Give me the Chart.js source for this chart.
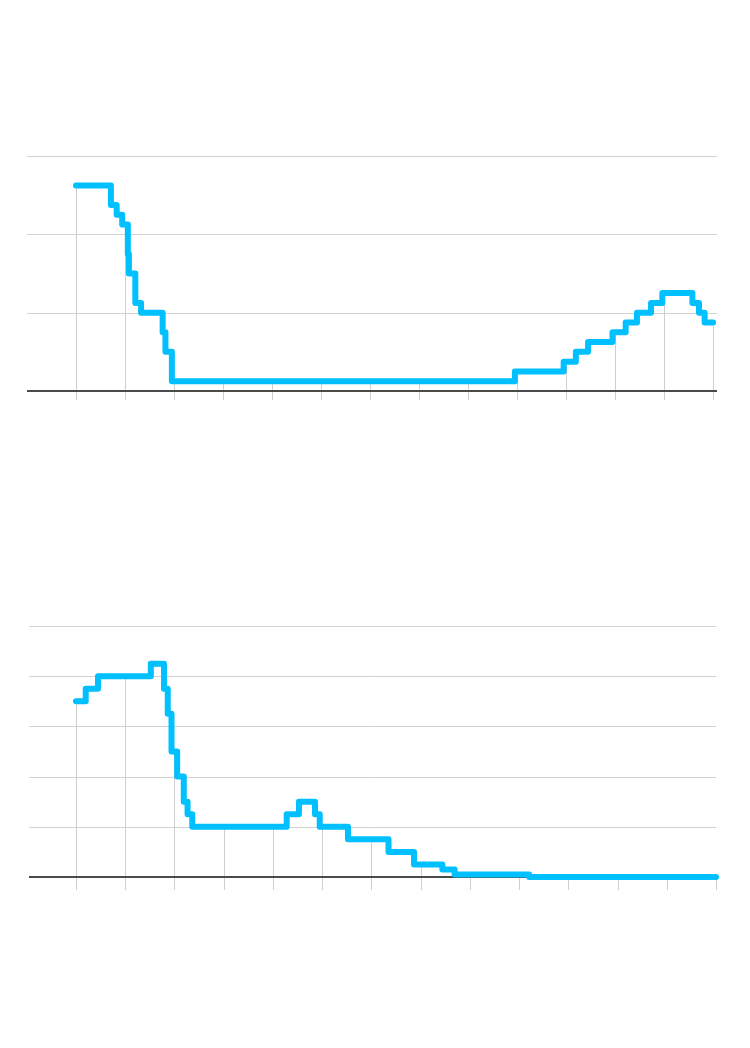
<!DOCTYPE html>
<html>
<head>
<meta charset="utf-8">
<script src="https://cdn.jsdelivr.net/npm/chart.js@4.4.1/dist/chart.umd.min.js"></script>
<style>
  html, body { margin: 0; padding: 0; background: #fff; }
  #wrap { position: relative; width: 750px; height: 1048px; }
  canvas { position: absolute; left: 0; }
  #fedChart { top: 0; }
  #ecbChart { top: 524px; }
</style>
</head>
<body>
<div id="wrap">
  <canvas id="fedChart" width="750" height="420"></canvas>
  <canvas id="ecbChart" width="750" height="524"></canvas>
</div>
<script>
// rate decision dates and the rate that applies from each date on
const fedDates = ['2007-01-01', '2007-09-18', '2007-10-31', '2007-12-11', '2008-01-22', '2008-01-30',
    '2008-03-18', '2008-04-30', '2008-10-08', '2008-10-29', '2008-12-16', '2015-12-16', '2016-12-14',
    '2017-03-15', '2017-06-14', '2017-12-13', '2018-03-21', '2018-06-13', '2018-09-26', '2018-12-19',
    '2019-07-31', '2019-09-18', '2019-10-30', '2020-01-01'];
const fedRates = [5.25, 4.75, 4.5, 4.25, 3.5, 3.0, 2.25, 2.0, 1.5, 1.0, 0.25, 0.5, 0.75,
    1.0, 1.25, 1.5, 1.75, 2.0, 2.25, 2.5, 2.25, 2.0, 1.75, 1.75];

const ecbDates = ['2007-01-01', '2007-03-14', '2007-06-13', '2008-07-09', '2008-10-15', '2008-11-12',
    '2008-12-10', '2009-01-21', '2009-03-11', '2009-04-08', '2009-05-13', '2011-04-13', '2011-07-13',
    '2011-11-09', '2011-12-14', '2012-07-11', '2013-05-08', '2013-11-13', '2014-06-11', '2014-09-10',
    '2016-03-16', '2020-01-01'];
const ecbRates = [3.5, 3.75, 4.0, 4.25, 3.75, 3.25, 2.5, 2.0, 1.5, 1.25, 1.0, 1.25, 1.5,
    1.25, 1.0, 0.75, 0.5, 0.25, 0.15, 0.05, 0.0, 0.0];

const yearTicks = [2007, 2008, 2009, 2010, 2011, 2012, 2013, 2014, 2015, 2016, 2017, 2018, 2019, 2020];
const fedGrid = [0, 2, 4, 6];
const ecbGrid = [0, 1, 2, 3, 4, 5];

function toYear(s) {
    const d = new Date(s + 'T00:00:00Z');
    const y = d.getUTCFullYear();
    const start = Date.UTC(y, 0, 1), end = Date.UTC(y + 1, 0, 1);
    return y + (d.getTime() - start) / (end - start);
}

function rateAt(points, x) {
    let v = points[0].y;
    for (const p of points) { if (p.x <= x + 1e-9) v = p.y; }
    return v;
}

function makeChart(id, dates, rates, grid, opts) {
    const points = dates.map((d, i) => ({ x: toYear(d), y: rates[i] }));

    const gridPlugin = {
        id: 'gridLines',
        beforeDatasetsDraw(chart) {
            const { ctx, chartArea, scales } = chart;
            const xs = scales.x, ys = scales.y;
            ctx.save();
            // horizontal grid
            ctx.strokeStyle = '#d2d2d2';
            ctx.lineWidth = 1;
            grid.forEach(v => {
                if (v === 0) return;
                const y = Math.round(ys.getPixelForValue(v)) + 0.5;
                ctx.beginPath();
                ctx.moveTo(chartArea.left, y);
                ctx.lineTo(chartArea.right, y);
                ctx.stroke();
            });
            // drop lines from the series to the axis at each year
            const y0 = ys.getPixelForValue(0);
            ctx.strokeStyle = '#cfcfcf';
            yearTicks.forEach(t => {
                const x = Math.round(xs.getPixelForValue(t)) + 0.5;
                const top = ys.getPixelForValue(rateAt(points, t));
                ctx.beginPath();
                ctx.moveTo(x, top);
                ctx.lineTo(x, y0 + opts.tickLen);
                ctx.stroke();
            });
            // zero axis
            ctx.strokeStyle = '#4a4a4a';
            ctx.lineWidth = 2;
            ctx.beginPath();
            ctx.moveTo(chartArea.left, Math.round(y0));
            ctx.lineTo(chartArea.right, Math.round(y0));
            ctx.stroke();
            ctx.restore();
        }
    };

    return new Chart(document.getElementById(id), {
        type: 'line',
        data: {
            datasets: [{
                data: points,
                stepped: true,
                borderColor: '#00c0ff',
                borderWidth: 6,
                borderCapStyle: 'round',
                borderJoinStyle: 'round',
                pointRadius: 0,
                fill: false,
                clip: false
            }]
        },
        options: {
            responsive: false,
            animation: false,
            layout: { padding: opts.padding },
            plugins: { legend: { display: false }, tooltip: { enabled: false } },
            scales: {
                x: { type: 'linear', display: false, min: opts.xMin, max: opts.xMax },
                y: { display: false, min: 0, max: grid[grid.length - 1] }
            }
        },
        plugins: [gridPlugin]
    });
}

makeChart('fedChart', fedDates, fedRates, fedGrid, {
    padding: { left: 27, right: 33, top: 156, bottom: 29 },
    xMin: 2006.0, xMax: 2020.08, tickLen: 9
});

makeChart('ecbChart', ecbDates, ecbRates, ecbGrid, {
    padding: { left: 29, right: 34, top: 102, bottom: 171 },
    xMin: 2006.045, xMax: 2020.0, tickLen: 13
});
</script>
</body>
</html>
